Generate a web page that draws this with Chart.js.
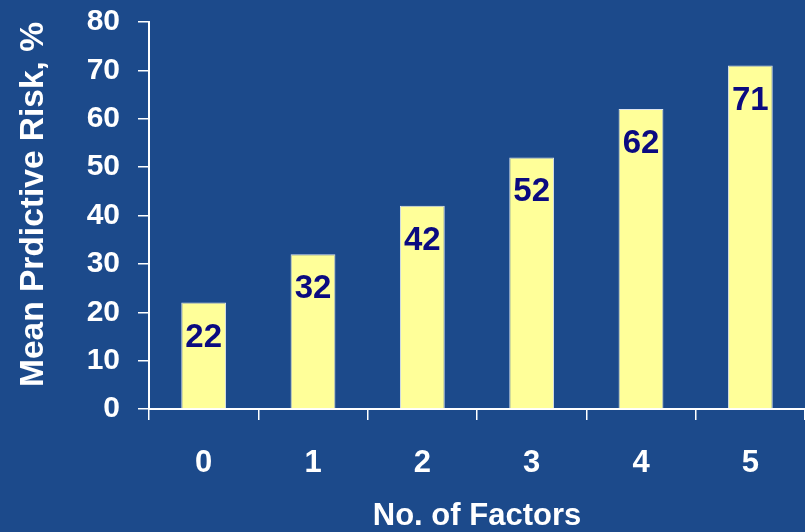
<!DOCTYPE html>
<html>
<head>
<meta charset="utf-8">
<script src="https://cdn.jsdelivr.net/npm/chart.js@4.4.0/dist/chart.umd.min.js"></script>
<style>
  html, body { margin: 0; padding: 0; background: #1c4a8b; }
  #wrap { width: 805px; height: 532px; }
</style>
</head>
<body>
<div id="wrap"><canvas id="riskChart" width="805" height="532"></canvas></div>
<script>
// data
const factorLabels = ['0', '1', '2', '3', '4', '5']
const riskValues = [22, 32, 42, 52, 62, 71]
const yTicks = [0, 10, 20, 30, 40, 50, 60, 70, 80]

const fontFam = '"Liberation Sans", Arial, sans-serif'

// values drawn inside each bar, near its top
const barValuePlugin = {
  id: 'barValues',
  afterDatasetsDraw(chart) {
    const ctx = chart.ctx
    const meta = chart.getDatasetMeta(0)
    ctx.save()
    ctx.fillStyle = '#0b0b80'
    ctx.font = 'bold 33px ' + fontFam
    ctx.textAlign = 'center'
    ctx.textBaseline = 'alphabetic'
    meta.data.forEach((bar, i) => {
      ctx.fillText(String(riskValues[i]), bar.x, bar.y + 44)
    })
    ctx.restore()
  }
}

const ctx = document.getElementById('riskChart').getContext('2d')

new Chart(ctx, {
  type: 'bar',
  data: {
    labels: factorLabels,
    datasets: [{
      label: 'Mean Prdictive Risk',
      data: riskValues,
      backgroundColor: '#ffff99',
      borderColor: 'rgba(255,255,255,0.85)',
      borderWidth: 1,
      categoryPercentage: 1,
      barPercentage: 0.41
    }]
  },
  options: {
    responsive: false,
    animation: false,
    layout: { padding: { top: 22, left: 0, right: 0, bottom: 0 } },
    plugins: {
      legend: { display: false },
      tooltip: { enabled: false }
    },
    scales: {
      x: {
        grid: {
          offset: true,
          drawOnChartArea: false,
          color: '#ffffff',
          lineWidth: 1.5,
          tickLength: 11
        },
        border: { color: '#ffffff', width: 2 },
        ticks: {
          color: '#ffffff',
          padding: 25,
          font: { family: fontFam, size: 31, weight: 'bold' }
        },
        title: {
          display: true,
          text: 'No. of Factors',
          color: '#ffffff',
          padding: 0,
          font: { family: fontFam, size: 31, weight: 'bold', lineHeight: 1 }
        },
        // fixed axis box so the plot area lands where the slide has it
        afterFit: (scale) => { scale.height = 123; scale.paddingLeft = 0; scale.paddingRight = 0 }
      },
      y: {
        min: 0,
        max: 80,
        afterBuildTicks: (scale) => { scale.ticks = yTicks.map(v => ({ value: v })) },
        grid: {
          drawOnChartArea: false,
          color: '#ffffff',
          lineWidth: 1.5,
          tickLength: 11
        },
        border: { color: '#ffffff', width: 2 },
        ticks: {
          color: '#ffffff',
          padding: 18,
          font: { family: fontFam, size: 30, weight: 'bold' }
        },
        title: {
          display: true,
          text: 'Mean Prdictive Risk, %',
          color: '#ffffff',
          align: 'end',
          padding: { top: 17, bottom: 0 },
          font: { family: fontFam, size: 33.5, weight: 'bold', lineHeight: 1 }
        },
        afterFit: (scale) => { scale.width = 149; scale.paddingTop = 0; scale.paddingBottom = 0 }
      }
    }
  },
  plugins: [barValuePlugin]
})
</script>
</body>
</html>
